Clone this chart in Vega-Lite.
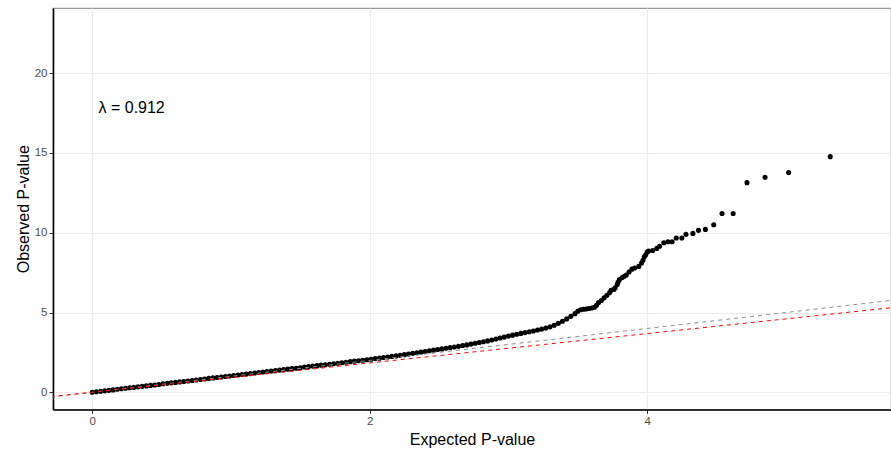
{
  "$schema": "https://vega.github.io/schema/vega-lite/v6.json",
  "autosize": {"type": "none"},
  "width": 838,
  "height": 401.5,
  "padding": {"left": 53, "top": 8, "right": 0, "bottom": 40.5},
  "background": "white",
  "config": {
    "font": "Liberation Sans",
    "view": {"stroke": "#999999", "strokeWidth": 1.2},
    "axis": {
      "domainColor": "black",
      "domainWidth": 1.6,
      "tickColor": "#333333",
      "tickSize": 4,
      "tickWidth": 1,
      "labelColor": "#4D4D4D",
      "labelFontSize": 11.5,
      "labelFont": "Liberation Sans",
      "titleFont": "Liberation Sans",
      "titleFontSize": 16,
      "titleFontWeight": "normal",
      "titleColor": "black",
      "gridColor": "#EBEBEB",
      "gridWidth": 1.1
    }
  },
  "datasets": {
    "qq": [
      {"e": 0, "o": 0}, {"e": 0.03, "o": 0.03}, {"e": 0.06, "o": 0.06}, {"e": 0.09, "o": 0.09}, {"e": 0.12, "o": 0.12},
      {"e": 0.15, "o": 0.15}, {"e": 0.18, "o": 0.19}, {"e": 0.21, "o": 0.22}, {"e": 0.24, "o": 0.25}, {"e": 0.27, "o": 0.28},
      {"e": 0.3, "o": 0.31}, {"e": 0.33, "o": 0.34}, {"e": 0.36, "o": 0.37}, {"e": 0.39, "o": 0.4}, {"e": 0.42, "o": 0.43},
      {"e": 0.45, "o": 0.46}, {"e": 0.48, "o": 0.49}, {"e": 0.51, "o": 0.53}, {"e": 0.54, "o": 0.56}, {"e": 0.57, "o": 0.59},
      {"e": 0.6, "o": 0.62}, {"e": 0.63, "o": 0.65}, {"e": 0.66, "o": 0.68}, {"e": 0.69, "o": 0.71}, {"e": 0.72, "o": 0.74},
      {"e": 0.75, "o": 0.77}, {"e": 0.78, "o": 0.8}, {"e": 0.81, "o": 0.83}, {"e": 0.84, "o": 0.87}, {"e": 0.87, "o": 0.9},
      {"e": 0.9, "o": 0.93}, {"e": 0.93, "o": 0.96}, {"e": 0.96, "o": 0.99}, {"e": 0.99, "o": 1.02}, {"e": 1.02, "o": 1.05},
      {"e": 1.05, "o": 1.08}, {"e": 1.08, "o": 1.11}, {"e": 1.11, "o": 1.14}, {"e": 1.14, "o": 1.17}, {"e": 1.17, "o": 1.21},
      {"e": 1.2, "o": 1.24}, {"e": 1.23, "o": 1.27}, {"e": 1.26, "o": 1.3}, {"e": 1.29, "o": 1.33}, {"e": 1.32, "o": 1.36},
      {"e": 1.35, "o": 1.39}, {"e": 1.38, "o": 1.42}, {"e": 1.41, "o": 1.45}, {"e": 1.44, "o": 1.48}, {"e": 1.47, "o": 1.51},
      {"e": 1.5, "o": 1.54}, {"e": 1.53, "o": 1.58}, {"e": 1.56, "o": 1.61}, {"e": 1.59, "o": 1.64}, {"e": 1.62, "o": 1.67},
      {"e": 1.65, "o": 1.7}, {"e": 1.68, "o": 1.73}, {"e": 1.71, "o": 1.76}, {"e": 1.74, "o": 1.79}, {"e": 1.77, "o": 1.82},
      {"e": 1.8, "o": 1.85}, {"e": 1.83, "o": 1.88}, {"e": 1.86, "o": 1.92}, {"e": 1.89, "o": 1.95}, {"e": 1.92, "o": 1.98},
      {"e": 1.95, "o": 2.01}, {"e": 1.98, "o": 2.04}, {"e": 2.01, "o": 2.07}, {"e": 2.04, "o": 2.11}, {"e": 2.07, "o": 2.14},
      {"e": 2.1, "o": 2.18}, {"e": 2.13, "o": 2.21}, {"e": 2.16, "o": 2.25}, {"e": 2.19, "o": 2.28}, {"e": 2.22, "o": 2.32},
      {"e": 2.25, "o": 2.36}, {"e": 2.28, "o": 2.4}, {"e": 2.31, "o": 2.44}, {"e": 2.34, "o": 2.48}, {"e": 2.37, "o": 2.52},
      {"e": 2.4, "o": 2.56}, {"e": 2.43, "o": 2.6}, {"e": 2.46, "o": 2.64}, {"e": 2.49, "o": 2.68}, {"e": 2.52, "o": 2.72},
      {"e": 2.55, "o": 2.76}, {"e": 2.58, "o": 2.8}, {"e": 2.61, "o": 2.84}, {"e": 2.64, "o": 2.88}, {"e": 2.67, "o": 2.93},
      {"e": 2.7, "o": 2.97}, {"e": 2.73, "o": 3.02}, {"e": 2.76, "o": 3.07}, {"e": 2.79, "o": 3.12}, {"e": 2.82, "o": 3.17},
      {"e": 2.85, "o": 3.22}, {"e": 2.88, "o": 3.28}, {"e": 2.91, "o": 3.34}, {"e": 2.94, "o": 3.4}, {"e": 2.97, "o": 3.46},
      {"e": 3.0, "o": 3.52}, {"e": 3.03, "o": 3.58}, {"e": 3.06, "o": 3.64}, {"e": 3.09, "o": 3.69}, {"e": 3.12, "o": 3.74},
      {"e": 3.15, "o": 3.79}, {"e": 3.18, "o": 3.84}, {"e": 3.21, "o": 3.9}, {"e": 3.24, "o": 3.96}, {"e": 3.27, "o": 4.03},
      {"e": 3.3, "o": 4.1}, {"e": 3.33, "o": 4.2}, {"e": 3.36, "o": 4.32}, {"e": 3.39, "o": 4.45}, {"e": 3.42, "o": 4.6},
      {"e": 3.45, "o": 4.76}, {"e": 3.48, "o": 4.93}, {"e": 3.5, "o": 5.08}, {"e": 3.52, "o": 5.17}, {"e": 3.54, "o": 5.2},
      {"e": 3.56, "o": 5.22}, {"e": 3.58, "o": 5.25}, {"e": 3.6, "o": 5.28}, {"e": 3.62, "o": 5.33}, {"e": 3.635, "o": 5.45},
      {"e": 3.65, "o": 5.62}, {"e": 3.67, "o": 5.75}, {"e": 3.69, "o": 5.92}, {"e": 3.71, "o": 6.08}, {"e": 3.73, "o": 6.25},
      {"e": 3.74, "o": 6.39}, {"e": 3.76, "o": 6.45}, {"e": 3.77, "o": 6.55}, {"e": 3.785, "o": 6.75}, {"e": 3.79, "o": 6.9},
      {"e": 3.8, "o": 7.06}, {"e": 3.82, "o": 7.19}, {"e": 3.835, "o": 7.27}, {"e": 3.85, "o": 7.35}, {"e": 3.87, "o": 7.54},
      {"e": 3.89, "o": 7.72}, {"e": 3.91, "o": 7.79}, {"e": 3.94, "o": 7.89}, {"e": 3.96, "o": 8.1}, {"e": 3.97, "o": 8.27},
      {"e": 3.98, "o": 8.5}, {"e": 3.99, "o": 8.62}, {"e": 4.0, "o": 8.79}, {"e": 4.01, "o": 8.85}, {"e": 4.04, "o": 8.89},
      {"e": 4.07, "o": 9.02}, {"e": 4.09, "o": 9.15}, {"e": 4.12, "o": 9.37}, {"e": 4.15, "o": 9.44}, {"e": 4.18, "o": 9.44},
      {"e": 4.21, "o": 9.67}, {"e": 4.25, "o": 9.67}, {"e": 4.28, "o": 9.9}, {"e": 4.33, "o": 9.96}, {"e": 4.37, "o": 10.15},
      {"e": 4.42, "o": 10.21}, {"e": 4.48, "o": 10.5}, {"e": 4.54, "o": 11.21}, {"e": 4.62, "o": 11.21}, {"e": 4.72, "o": 13.14},
      {"e": 4.85, "o": 13.48}, {"e": 5.02, "o": 13.77}, {"e": 5.32, "o": 14.77}
    ],
    "ref": [
      {"e": -0.3, "gray": -0.3, "red": -0.276},
      {"e": 5.8, "gray": 5.8, "red": 5.336}
    ],
    "lab": [{"e": 0.045, "o": 17.8, "t": "λ = 0.912"}]
  },
  "encoding": {
    "x": {
      "field": "e", "type": "quantitative",
      "scale": {"domain": [-0.283, 5.758], "nice": false, "zero": false},
      "axis": {"title": "Expected P-value", "values": [0, 2, 4], "labelPadding": 2, "titlePadding": 4}
    }
  },
  "layer": [
    {
      "data": {"name": "qq"},
      "mark": {"type": "point", "filled": true, "color": "black", "opacity": 1, "size": 26, "clip": true},
      "encoding": {
        "y": {
          "field": "o", "type": "quantitative",
          "scale": {"domain": [-1.08, 24.09], "nice": false, "zero": false},
          "axis": {"title": "Observed P-value", "values": [0, 5, 10, 15, 20], "labelPadding": 2, "titlePadding": 3}
        }
      }
    },
    {
      "data": {"name": "ref"},
      "mark": {"type": "line", "color": "#8c8c8c", "strokeWidth": 1, "strokeDash": [4, 4], "clip": true},
      "encoding": {"y": {"field": "gray", "type": "quantitative"}}
    },
    {
      "data": {"name": "ref"},
      "mark": {"type": "line", "color": "#ff0000", "strokeWidth": 1, "strokeDash": [4, 4], "clip": true},
      "encoding": {"y": {"field": "red", "type": "quantitative"}}
    },
    {
      "data": {"name": "lab"},
      "mark": {"type": "text", "align": "left", "baseline": "middle", "fontSize": 16, "color": "black", "font": "Liberation Sans"},
      "encoding": {"y": {"field": "o", "type": "quantitative"}, "text": {"field": "t"}}
    }
  ]
}
